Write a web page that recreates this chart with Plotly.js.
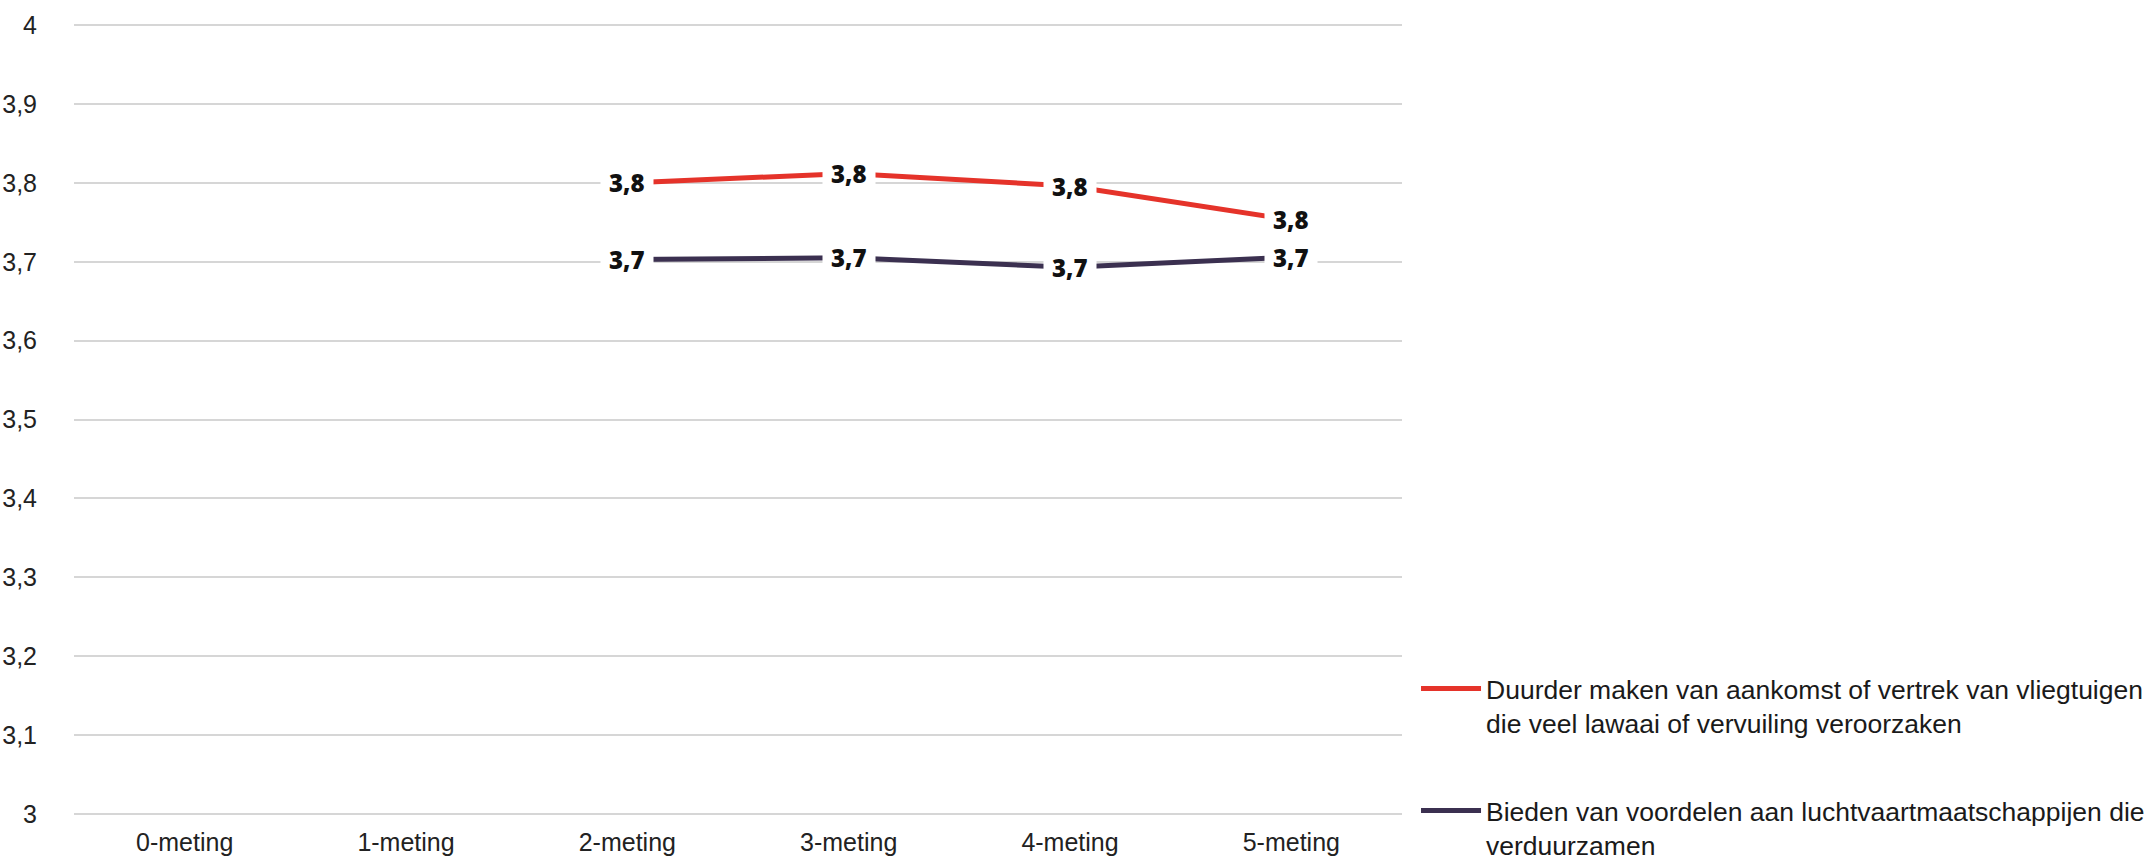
<!DOCTYPE html>
<html>
<head>
<meta charset="utf-8">
<script src="https://cdn.plot.ly/plotly-3.0.1.min.js"></script>
<style>html,body{margin:0;padding:0;background:#fff;}#chart{width:2152px;height:860px;}</style>
</head>
<body>
<div id="chart"></div>
<script>
const categories = ["0-meting", "1-meting", "2-meting", "3-meting", "4-meting", "5-meting"];
const seriesNames = [
  "Duurder maken van aankomst of vertrek van vliegtuigen<br>die veel lawaai of vervuiling veroorzaken",
  "Bieden van voordelen aan luchtvaartmaatschappijen die<br>verduurzamen"
];
const duurderValues = [null, null, 3.80, 3.812, 3.796, 3.753];
const biedenValues = [null, null, 3.703, 3.705, 3.693, 3.706];
const seriesColors = ["#e5332a", "#3b3050"];
const yTickVals = [3, 3.1, 3.2, 3.3, 3.4, 3.5, 3.6, 3.7, 3.8, 3.9, 4];
const yTickText = ["3", "3,1", "3,2", "3,3", "3,4", "3,5", "3,6", "3,7", "3,8", "3,9", "4"];

const allValues = [duurderValues, biedenValues];
const traces = allValues.map((vals, i) => ({
  type: "scatter",
  mode: "lines",
  x: categories,
  y: vals,
  name: seriesNames[i],
  legendgroup: "g" + i,
  line: {color: seriesColors[i], width: 5},
  connectgaps: false,
  hoverinfo: "skip"
}));

const annotations = [];
allValues.forEach(vals => {
  vals.forEach((v, j) => {
    if (v === null) return;
    annotations.push({
      x: categories[j], y: v, xref: "x", yref: "y",
      text: v.toFixed(1).replace(".", ","),
      showarrow: false,
      bgcolor: "#ffffff",
      borderpad: 8,
      font: {family: "Open Sans", size: 24, color: "#111111", weight: 800}
    });
  });
});

const layout = {
  width: 2152, height: 860,
  paper_bgcolor: "#ffffff", plot_bgcolor: "#ffffff",
  margin: {l: 74, r: 750, t: 24, b: 45, autoexpand: false},
  font: {family: "Liberation Sans, Arial, sans-serif", size: 25, color: "#222222"},
  xaxis: {
    type: "category", range: [-0.5, 5.5], automargin: false,
    showgrid: false, zeroline: false, showline: false, ticks: "",
    ticklabelstandoff: 10,
    tickfont: {size: 25, color: "#222222"}
  },
  yaxis: {
    range: [2.9985, 4.0015], tickvals: yTickVals, ticktext: yTickText, automargin: false,
    showgrid: true, gridcolor: "#d6d6d6", gridwidth: 2,
    zeroline: false, showline: false, ticks: "",
    ticklabelstandoff: 36,
    tickfont: {size: 25, color: "#222222"}
  },
  showlegend: true,
  legend: {
    xref: "container", yref: "container",
    x: 0.658, xanchor: "left", y: 0.227, yanchor: "top",
    traceorder: "grouped", tracegroupgap: 50, valign: "top",
    itemwidth: 60,
    font: {size: 26.5, color: "#1a1a1a"},
    bgcolor: "rgba(0,0,0,0)"
  },
  annotations: annotations
};

Plotly.newPlot("chart", traces, layout, {displayModeBar: false, staticPlot: true});
</script>
</body>
</html>
